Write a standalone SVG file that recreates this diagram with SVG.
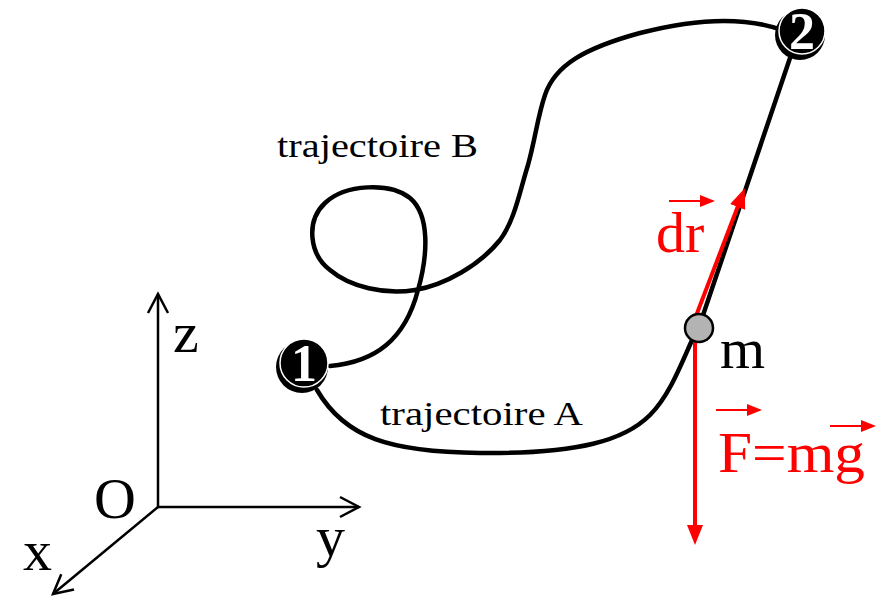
<svg xmlns="http://www.w3.org/2000/svg" width="890" height="599" viewBox="0 0 890 599">
  <style>
    .curve { fill: none; stroke: #000; stroke-width: 4.5; stroke-linecap: round; }
    .axis { fill: none; stroke: #000; stroke-width: 2.5; }
    .lbl { font-family: "Liberation Serif", "Times New Roman", serif; fill: #000; }
    .red { font-family: "Liberation Serif", "Times New Roman", serif; fill: #ff0000; }
    .big { font-size: 58px; }
    .traj { font-size: 34px; }
    .rline { stroke: #ff0000; stroke-width: 4; fill: none; }
    .rthin { stroke: #ff0000; stroke-width: 2; fill: none; }
    .num { font-family: "Liberation Serif", "Times New Roman", serif; font-weight: bold; font-size: 52px; fill: #fff; text-anchor: middle; }
  </style>
  <defs>
    <marker id="open" markerUnits="userSpaceOnUse" viewBox="-2 -2 24 24" refX="19" refY="10" markerWidth="24" markerHeight="24" orient="auto">
      <path d="M0,0 L19,10 L0,20" fill="none" stroke="#000" stroke-width="2.5"/>
    </marker>
    <marker id="rhead" markerUnits="userSpaceOnUse" viewBox="0 0 20 16" refX="1" refY="8" markerWidth="20" markerHeight="16" orient="auto">
      <path d="M0,0 L20,8 L0,16 Z" fill="#ff0000"/>
    </marker>
    <marker id="shead" markerUnits="userSpaceOnUse" viewBox="0 0 15 12" refX="1" refY="6" markerWidth="15" markerHeight="12" orient="auto">
      <path d="M0,0 L15,6 L0,12 Z" fill="#ff0000"/>
    </marker>
  </defs>

  <g id="axes">
    <line class="axis" x1="158" y1="507" x2="158" y2="294" marker-end="url(#open)"/>
    <line class="axis" x1="158" y1="507" x2="359" y2="507" marker-end="url(#open)"/>
    <line class="axis" x1="158" y1="507" x2="53" y2="594" marker-end="url(#open)"/>
    <text class="lbl big" x="173" y="352">z</text>
    <text class="lbl big" x="94" y="518">O</text>
    <text class="lbl big" x="316" y="556">y</text>
    <text class="lbl big" x="23" y="570">x</text>
  </g>

  <g id="connectors">
    <path id="trajA" class="curve" d="M317,390 C345,438 390,452 480,453 C580,454 625,440 650,415 C670,395 682,362 693,338"/>
    <path id="trajB" class="curve" d="M330,366 C375,362 405,340 418,290 C428,255 430,215 410,198 C390,182 345,184 325,203 C305,222 310,255 330,270 C350,287 385,295 415,290 C445,285 480,265 500,240 C515,220 520,190 528,165 C535,140 538,115 545,95 C555,65 585,48 640,33 C690,20 740,15 782,30"/>
    <line id="seg" class="curve" x1="699" y1="327" x2="790" y2="58"/>
    <line id="dr" class="rline" x1="696" y1="316" x2="738" y2="206" marker-end="url(#rhead)"/>
    <line id="F" class="rline" x1="695" y1="340" x2="695" y2="526" marker-end="url(#rhead)"/>
  </g>

  <g id="labels">
    <text class="lbl traj" x="277" y="157" textLength="201" lengthAdjust="spacingAndGlyphs">trajectoire  B</text>
    <text class="lbl traj" x="380" y="425" textLength="203" lengthAdjust="spacingAndGlyphs">trajectoire  A</text>
    <text class="lbl big" x="720" y="368">m</text>
    <text class="red big" x="656" y="252">dr</text>
    <line class="rthin" x1="669" y1="201" x2="701" y2="201" marker-end="url(#shead)"/>
    <text class="red big" x="718" y="472" textLength="147" lengthAdjust="spacingAndGlyphs">F=mg</text>
    <line class="rthin" x1="716" y1="410" x2="748" y2="410" marker-end="url(#shead)"/>
    <line class="rthin" x1="830" y1="426" x2="862" y2="426" marker-end="url(#shead)"/>
  </g>

  <g id="mass">
    <circle cx="699" cy="328" r="14" fill="#b3b3b3" stroke="#000" stroke-width="2.5"/>
  </g>

  <g id="node1">
    <circle cx="302" cy="367" r="26" fill="#000"/>
    <circle cx="304" cy="363" r="24" fill="#000" stroke="#fff" stroke-width="1.5"/>
    <text class="num" x="304" y="381">1</text>
  </g>

  <g id="node2">
    <circle cx="800" cy="35" r="25" fill="#000"/>
    <circle cx="802" cy="31" r="23" fill="#000" stroke="#fff" stroke-width="1.5"/>
    <text class="num" x="802" y="49">2</text>
  </g>
</svg>
